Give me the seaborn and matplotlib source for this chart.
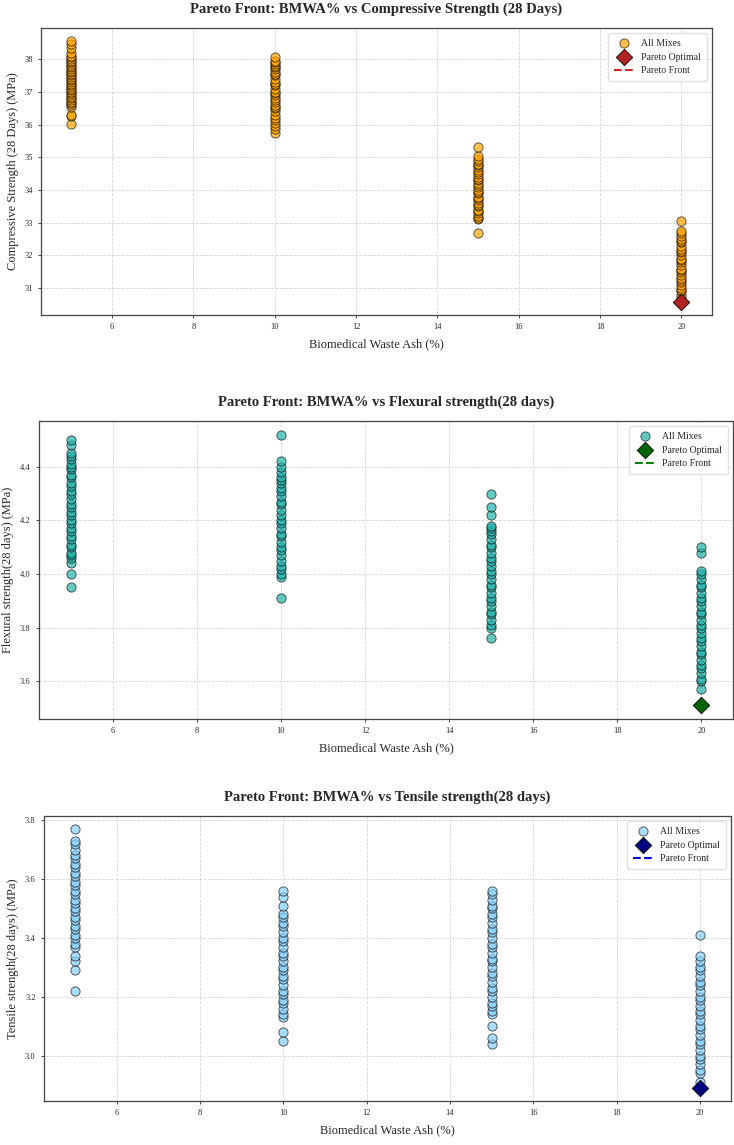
import pandas as pd
import matplotlib
matplotlib.use("Agg")
import matplotlib.pyplot as plt
import seaborn as sns

sns.set_theme(style="ticks")
plt.rcParams['font.family'] = ['Liberation Serif', 'DejaVu Serif']

bmwa_levels = [5, 10, 15, 20]

# Compressive strength (28 days), MPa, per BMWA level
comp_5 = [36.02, 36.25, 36.3, 36.55, 36.6, 36.65, 36.7, 36.75, 36.8, 36.85, 36.9, 36.95,
          37.0, 37.05, 37.1, 37.15, 37.2, 37.25, 37.3, 37.35, 37.4, 37.45, 37.5, 37.55,
          37.6, 37.65, 37.7, 37.75, 37.8, 37.85, 37.9, 37.95, 38.0, 38.05, 38.1, 38.2,
          38.35, 38.45, 38.55]
comp_10 = [35.75, 35.85, 35.95, 36.05, 36.15, 36.2, 36.3, 36.4, 36.5, 36.55, 36.6, 36.7,
           36.75, 36.8, 36.9, 36.95, 37.0, 37.1, 37.2, 37.25, 37.3, 37.4, 37.5, 37.55,
           37.6, 37.7, 37.75, 37.8, 37.85, 37.9, 37.95, 38.05]
comp_15 = [32.7, 33.1, 33.15, 33.2, 33.3, 33.35, 33.4, 33.5, 33.55, 33.6, 33.7, 33.75,
           33.8, 33.9, 33.95, 34.0, 34.1, 34.15, 34.2, 34.3, 34.35, 34.4, 34.5, 34.55,
           34.6, 34.7, 34.75, 34.8, 34.9, 34.95, 35.05, 35.3]
comp_20 = [30.58, 30.7, 30.8, 30.9, 30.95, 31.0, 31.1, 31.2, 31.25, 31.3, 31.4, 31.5,
           31.55, 31.6, 31.7, 31.8, 31.85, 31.9, 32.0, 32.1, 32.15, 32.2, 32.3, 32.4,
           32.45, 32.5, 32.6, 32.7, 32.75, 33.05]

# Flexural strength (28 days), MPa
flex_5 = [3.95, 4.00, 4.04, 4.06, 4.07, 4.08, 4.10, 4.11, 4.13, 4.14, 4.16, 4.17, 4.19,
          4.20, 4.22, 4.23, 4.25, 4.26, 4.28, 4.30, 4.31, 4.33, 4.34, 4.36, 4.37, 4.39,
          4.40, 4.41, 4.43, 4.44, 4.45, 4.48, 4.50]
flex_10 = [3.91, 3.99, 4.00, 4.02, 4.03, 4.05, 4.07, 4.09, 4.10, 4.12, 4.14, 4.15, 4.17,
           4.19, 4.20, 4.22, 4.24, 4.26, 4.27, 4.29, 4.31, 4.32, 4.34, 4.35, 4.36, 4.38,
           4.40, 4.42, 4.52]
flex_15 = [3.76, 3.80, 3.81, 3.83, 3.85, 3.86, 3.88, 3.90, 3.91, 3.93, 3.95, 3.96, 3.98,
           4.00, 4.01, 4.03, 4.05, 4.06, 4.08, 4.10, 4.11, 4.13, 4.15, 4.16, 4.17, 4.18,
           4.22, 4.25, 4.30]
flex_20 = [3.51, 3.57, 3.60, 3.61, 3.63, 3.65, 3.66, 3.68, 3.70, 3.71, 3.73, 3.75, 3.76,
           3.78, 3.80, 3.81, 3.83, 3.85, 3.86, 3.88, 3.90, 3.91, 3.93, 3.95, 3.96, 3.98,
           4.00, 4.01, 4.08, 4.10]

# Tensile strength (28 days), MPa
tens_5 = [3.22, 3.29, 3.32, 3.34, 3.37, 3.38, 3.40, 3.41, 3.43, 3.44, 3.46, 3.47, 3.49,
          3.50, 3.52, 3.53, 3.55, 3.56, 3.58, 3.59, 3.61, 3.62, 3.64, 3.65, 3.67, 3.68,
          3.70, 3.72, 3.73, 3.77]
tens_10 = [3.05, 3.08, 3.13, 3.14, 3.16, 3.18, 3.19, 3.21, 3.22, 3.24, 3.26, 3.27, 3.29,
           3.30, 3.32, 3.34, 3.35, 3.37, 3.39, 3.40, 3.42, 3.44, 3.45, 3.47, 3.48, 3.51,
           3.54, 3.56]
tens_15 = [3.04, 3.06, 3.10, 3.14, 3.15, 3.17, 3.18, 3.20, 3.22, 3.23, 3.25, 3.27, 3.28,
           3.30, 3.32, 3.33, 3.35, 3.37, 3.38, 3.40, 3.42, 3.43, 3.45, 3.47, 3.48, 3.50,
           3.51, 3.53, 3.55, 3.56]
tens_20 = [2.89, 2.91, 2.94, 2.95, 2.97, 2.99, 3.00, 3.02, 3.04, 3.05, 3.07, 3.09, 3.10,
           3.12, 3.14, 3.15, 3.17, 3.19, 3.20, 3.22, 3.24, 3.25, 3.27, 3.29, 3.30, 3.32,
           3.34, 3.41]

# Pareto optimal point per target
pareto_x = [20]
pareto_comp = [30.58]
pareto_flex = [3.51]
pareto_tens = [2.89]


def make_df(groups):
    rows = []
    for lvl, vals in zip(bmwa_levels, groups):
        for v in vals:
            rows.append((lvl, v))
    return pd.DataFrame(rows, columns=['BMWA', 'Strength'])


panels = [
    dict(df=make_df([comp_5, comp_10, comp_15, comp_20]), py=pareto_comp,
         title='Pareto Front: BMWA% vs Compressive Strength (28 Days)',
         ylabel='Compressive Strength (28 Days) (MPa)',
         color='orange', pcolor='firebrick', lcolor='tab:red',
         pos=[41 / 734, 1 - 315 / 1145, 671 / 734, 287 / 1145]),
    dict(df=make_df([flex_5, flex_10, flex_15, flex_20]), py=pareto_flex,
         title='Pareto Front: BMWA% vs Flexural strength(28 days)',
         ylabel='Flexural strength(28 days) (MPa)',
         color='lightseagreen', pcolor='darkgreen', lcolor='green',
         pos=[39 / 734, 1 - 719 / 1145, 694 / 734, 298 / 1145]),
    dict(df=make_df([tens_5, tens_10, tens_15, tens_20]), py=pareto_tens,
         title='Pareto Front: BMWA% vs Tensile strength(28 days)',
         ylabel='Tensile strength(28 days) (MPa)',
         color='lightskyblue', pcolor='navy', lcolor='mediumblue',
         pos=[44 / 734, 1 - 1101 / 1145, 687 / 734, 285 / 1145]),
]

fig = plt.figure(figsize=(7.34, 11.45), dpi=100)

for p in panels:
    ax = fig.add_axes(p['pos'])
    sns.scatterplot(data=p['df'], x='BMWA', y='Strength', color=p['color'], alpha=0.7,
                    s=44, edgecolor='black', linewidth=0.6, label='All Mixes', ax=ax, zorder=3)
    sns.scatterplot(x=pareto_x, y=p['py'], color=p['pcolor'], marker='D', s=70,
                    edgecolor='black', linewidth=0.6, label='Pareto Optimal', ax=ax, zorder=4)
    ax.plot(pareto_x, p['py'], linestyle='--', color=p['lcolor'], linewidth=1.5,
            label='Pareto Front', zorder=4)

    ax.set_title(p['title'], fontsize=10.5, fontweight='bold', pad=11)
    ax.set_xlabel('Biomedical Waste Ash (%)', fontsize=9, labelpad=5)
    ax.set_ylabel(p['ylabel'], fontsize=9)
    ax.tick_params(labelsize=6, length=2.5, width=0.6)
    ax.grid(True, linestyle='--', linewidth=0.6, color='#cccccc', alpha=0.8)
    ax.set_axisbelow(True)
    for sp in ax.spines.values():
        sp.set_color('#444444')
        sp.set_linewidth(0.9)
    ax.legend(loc='upper right', fontsize=7, frameon=True, framealpha=0.9,
              edgecolor='#dddddd', fancybox=True, borderpad=0.6)

fig.savefig('out.png', dpi=100)
